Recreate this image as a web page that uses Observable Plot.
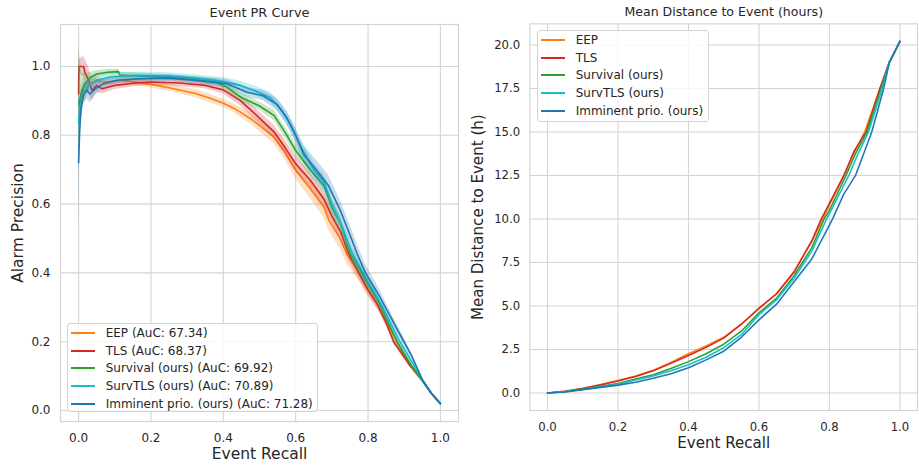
<!DOCTYPE html>
<html><head><meta charset="utf-8">
<script src="https://cdn.jsdelivr.net/npm/d3@7"></script>
<script src="https://cdn.jsdelivr.net/npm/@observablehq/plot@0.6"></script>
<style>
html,body{margin:0;padding:0;background:#fff;overflow:hidden}
#wrap{position:relative;width:919px;height:467px;overflow:hidden;font-family:"DejaVu Sans",sans-serif;color:#262626;background:#fff}
.panel{position:absolute;top:0}
.legend{position:absolute;background:rgba(255,255,255,0.8);border:1px solid #d4d4d4;border-radius:3px;font-size:12px;box-sizing:border-box;padding:0 0 0 3px}
.legend .row{height:17.7px;display:flex;align-items:center;white-space:nowrap}
.legend .sw{width:24px;height:2px;margin-right:10.7px;flex:none}
</style>
</head><body>
<div id="wrap">
  <div id="left" class="panel" style="left:0"></div>
  <div id="right" class="panel" style="left:470px"></div>
  <div id="legL" class="legend" style="left:67px;top:323px;width:251px;height:89px"></div>
  <div id="legR" class="legend" style="left:537px;top:30px;width:172px;height:92px"></div>
</div>
<script>
const methods = ["EEP", "TLS", "Survival (ours)", "SurvTLS (ours)", "Imminent prio. (ours)"];
const aucs = ["67.34", "68.37", "69.92", "70.89", "71.28"];
const colors = ["#ff7f0e", "#d62728", "#2ca02c", "#17becf", "#1f77b4"];
const recallTicks = [0, 0.2, 0.4, 0.6, 0.8, 1.0];
const precisionTicks = [0, 0.2, 0.4, 0.6, 0.8, 1.0];
const distanceTicks = [0, 2.5, 5, 7.5, 10, 12.5, 15, 17.5, 20];

// PR curves: [recall, precision, band half-width]
const prEEP = [[0.002,0.88,0.03],[0.005,0.90,0.04],[0.012,0.935,0.03],[0.018,0.925,0.025],[0.03,0.95,0.015],[0.05,0.96,0.01],[0.07,0.955,0.01],[0.12,0.96,0.01],[0.2,0.948,0.01],[0.25,0.938,0.01],[0.32,0.922,0.012],[0.36,0.909,0.012],[0.4,0.893,0.012],[0.43,0.878,0.012],[0.45,0.865,0.015],[0.48,0.845,0.015],[0.51,0.82,0.018],[0.54,0.795,0.02],[0.57,0.752,0.022],[0.6,0.698,0.025],[0.64,0.645,0.028],[0.678,0.591,0.03],[0.692,0.552,0.03],[0.72,0.505,0.03],[0.742,0.455,0.03],[0.776,0.40,0.025],[0.8,0.352,0.02],[0.828,0.305,0.015],[0.85,0.26,0.012],[0.88,0.20,0.01],[0.9,0.16,0.008],[0.93,0.112,0.006],[0.95,0.087,0.005],[0.975,0.05,0.004],[1.0,0.02,0.003]];
const prTLS = [[0.0,0.92,0.03],[0.001,1.0,0.02],[0.014,1.0,0.03],[0.018,0.98,0.04],[0.028,0.96,0.04],[0.037,0.93,0.03],[0.05,0.945,0.02],[0.065,0.935,0.015],[0.1,0.945,0.012],[0.16,0.952,0.01],[0.2,0.955,0.01],[0.28,0.952,0.01],[0.35,0.945,0.01],[0.4,0.932,0.012],[0.448,0.90,0.015],[0.49,0.86,0.018],[0.54,0.81,0.02],[0.57,0.765,0.022],[0.6,0.717,0.022],[0.64,0.67,0.022],[0.678,0.615,0.022],[0.70,0.565,0.02],[0.724,0.52,0.02],[0.745,0.46,0.02],[0.774,0.40,0.018],[0.8,0.35,0.015],[0.825,0.31,0.012],[0.85,0.255,0.01],[0.871,0.20,0.008],[0.9,0.155,0.007],[0.915,0.132,0.006],[0.93,0.115,0.005],[0.95,0.087,0.005],[0.975,0.05,0.004],[1.0,0.02,0.003]];
const prSurvival = [[0.0,0.89,0.17],[0.009,0.93,0.05],[0.018,0.95,0.03],[0.032,0.968,0.015],[0.05,0.978,0.01],[0.08,0.983,0.008],[0.11,0.985,0.008],[0.115,0.975,0.008],[0.18,0.972,0.008],[0.25,0.968,0.008],[0.32,0.962,0.008],[0.38,0.955,0.01],[0.41,0.94,0.01],[0.448,0.911,0.012],[0.5,0.885,0.012],[0.54,0.858,0.015],[0.57,0.81,0.015],[0.6,0.756,0.018],[0.64,0.70,0.018],[0.678,0.654,0.02],[0.70,0.59,0.02],[0.724,0.543,0.02],[0.752,0.455,0.018],[0.782,0.40,0.016],[0.832,0.31,0.012],[0.88,0.20,0.01],[0.92,0.13,0.007],[0.95,0.087,0.005],[0.975,0.05,0.004],[1.0,0.02,0.003]];
const prSurvTLS = [[0.0,0.834,0.06],[0.004,0.88,0.04],[0.014,0.92,0.03],[0.028,0.945,0.02],[0.05,0.96,0.012],[0.088,0.97,0.01],[0.16,0.974,0.01],[0.25,0.972,0.01],[0.32,0.966,0.01],[0.4,0.956,0.012],[0.448,0.945,0.012],[0.49,0.928,0.014],[0.53,0.91,0.015],[0.558,0.877,0.016],[0.585,0.833,0.018],[0.613,0.77,0.02],[0.65,0.70,0.02],[0.678,0.665,0.02],[0.70,0.60,0.02],[0.724,0.545,0.02],[0.757,0.455,0.018],[0.786,0.40,0.016],[0.838,0.305,0.012],[0.885,0.205,0.01],[0.925,0.135,0.007],[0.95,0.088,0.005],[0.975,0.05,0.004],[1.0,0.02,0.003]];
const prImminent = [[0.0,0.72,0.2],[0.003,0.815,0.08],[0.007,0.88,0.04],[0.014,0.92,0.03],[0.023,0.93,0.025],[0.032,0.92,0.025],[0.046,0.935,0.02],[0.069,0.95,0.012],[0.106,0.96,0.01],[0.16,0.964,0.01],[0.25,0.966,0.01],[0.32,0.96,0.01],[0.41,0.95,0.012],[0.465,0.925,0.014],[0.51,0.915,0.015],[0.548,0.89,0.018],[0.576,0.85,0.02],[0.6,0.80,0.022],[0.622,0.745,0.025],[0.659,0.697,0.028],[0.69,0.655,0.03],[0.724,0.58,0.03],[0.756,0.494,0.03],[0.77,0.455,0.028],[0.793,0.40,0.025],[0.83,0.335,0.02],[0.853,0.29,0.016],[0.894,0.21,0.012],[0.92,0.16,0.008],[0.95,0.09,0.006],[0.975,0.05,0.004],[1.0,0.02,0.003]];

// Mean distance to event: [recall, hours]
const mdEEP = [[0,0],[0.05,0.1],[0.1,0.27],[0.15,0.48],[0.2,0.72],[0.25,0.97],[0.3,1.3],[0.35,1.75],[0.4,2.25],[0.45,2.7],[0.5,3.2],[0.55,3.95],[0.6,4.85],[0.65,5.7],[0.7,7.0],[0.75,8.7],[0.78,9.95],[0.8,10.8],[0.84,12.45],[0.87,13.8],[0.9,15.0],[0.94,17.3],[0.97,19.0],[1.0,20.2]];
const mdTLS = [[0,0],[0.05,0.1],[0.1,0.26],[0.15,0.46],[0.2,0.69],[0.25,0.95],[0.3,1.27],[0.35,1.7],[0.4,2.15],[0.45,2.62],[0.5,3.15],[0.55,3.95],[0.6,4.87],[0.65,5.7],[0.7,6.95],[0.75,8.75],[0.777,10.0],[0.8,10.9],[0.841,12.5],[0.87,13.9],[0.904,15.0],[0.943,17.5],[0.97,19.0],[1.0,20.2]];
const mdSurvival = [[0,0],[0.05,0.08],[0.1,0.22],[0.15,0.38],[0.2,0.54],[0.25,0.8],[0.3,1.05],[0.35,1.4],[0.4,1.8],[0.45,2.25],[0.5,2.8],[0.55,3.55],[0.6,4.6],[0.65,5.45],[0.7,6.75],[0.75,8.35],[0.785,10.0],[0.8,10.5],[0.847,12.5],[0.875,13.8],[0.907,15.0],[0.946,17.5],[0.97,19.0],[1.0,20.2]];
const mdSurvTLS = [[0,0],[0.05,0.07],[0.1,0.2],[0.15,0.35],[0.2,0.5],[0.25,0.74],[0.3,0.97],[0.35,1.28],[0.4,1.62],[0.45,2.05],[0.5,2.6],[0.55,3.35],[0.6,4.5],[0.65,5.35],[0.7,6.6],[0.75,8.15],[0.792,10.0],[0.8,10.3],[0.855,12.5],[0.88,13.7],[0.911,15.0],[0.95,17.5],[0.97,19.0],[1.0,20.2]];
const mdImminent = [[0,0],[0.05,0.06],[0.1,0.19],[0.15,0.32],[0.2,0.45],[0.25,0.62],[0.3,0.84],[0.35,1.1],[0.4,1.45],[0.45,1.9],[0.5,2.4],[0.55,3.2],[0.6,4.2],[0.65,5.1],[0.7,6.4],[0.75,7.7],[0.809,10.0],[0.84,11.4],[0.874,12.5],[0.9,13.9],[0.92,15.0],[0.954,17.5],[0.97,19.0],[1.0,20.2]];

const prSeries = [prEEP, prTLS, prSurvival, prSurvTLS, prImminent];
const mdSeries = [mdEEP, mdTLS, mdSurvival, mdSurvTLS, mdImminent];

const GRID = "#d4d4d4";
const TXT = "#262626";
const fmt = d3.format(".1f");

function basic(xTicks, yTicks, title, ylabel, ylabelDx) {
  return {
    pre: [
      Plot.gridX(xTicks, {stroke: GRID, strokeOpacity: 1, strokeWidth: 1.1}),
      Plot.gridY(yTicks, {stroke: GRID, strokeOpacity: 1, strokeWidth: 1.1}),
    ],
    post: [
      Plot.frame({stroke: GRID, strokeWidth: 1.2}),
      Plot.axisX(xTicks, {tickSize: 0, tickPadding: 12, tickFormat: fmt, fontSize: 12, label: null, fill: TXT}),
      Plot.axisY(yTicks, {tickSize: 0, tickPadding: 10, tickFormat: fmt, fontSize: 12, label: null, fill: TXT}),
      Plot.text([title], {frameAnchor: "top", lineAnchor: "middle", textAnchor: "middle", dy: -12, fontSize: 12.9, fill: TXT}),
      Plot.text(["Event Recall"], {frameAnchor: "bottom", lineAnchor: "middle", textAnchor: "middle", dy: 33, fontSize: 15.5, fill: TXT}),
      Plot.text([ylabel], {frameAnchor: "left", lineAnchor: "middle", textAnchor: "middle", dx: ylabelDx, rotate: -90, fontSize: 15.5, fill: TXT}),
    ]
  };
}

// Left panel
{
  const b = basic(recallTicks, precisionTicks, "Event PR Curve", "Alarm Precision", -42.5);
  const marks = [...b.pre];
  prSeries.forEach((s, i) => {
    marks.push(Plot.line(s, {x: d => d[0], y: d => d[1], stroke: colors[i], strokeWidth: 1.6}));
    marks.push(Plot.areaY(s, {x: d => d[0], y1: d => d[1] - d[2], y2: d => d[1] + d[2], fill: colors[i], fillOpacity: 0.25}));
  });
  marks.push(...b.post);
  const p = Plot.plot({
    width: 460, height: 467,
    marginLeft: 60, marginRight: 2, marginTop: 24, marginBottom: 46,
    x: {domain: [-0.05, 1.05]},
    y: {domain: [-0.032, 1.122]},
    style: {fontFamily: "DejaVu Sans", fontSize: "12px", background: "transparent", color: TXT},
    marks
  });
  document.getElementById("left").appendChild(p);
}

// Right panel
{
  const b = basic(recallTicks, distanceTicks, "Mean Distance to Event (hours)", "Mean Distance to Event (h)", -53);
  const marks = [...b.pre];
  mdSeries.forEach((s, i) => {
    marks.push(Plot.line(s, {x: d => d[0], y: d => d[1], stroke: colors[i], strokeWidth: 1.6}));
  });
  marks.push(...b.post);
  const p = Plot.plot({
    width: 461, height: 467,
    marginLeft: 61, marginRight: 2, marginTop: 24, marginBottom: 46,
    x: {domain: [-0.05, 1.05]},
    y: {domain: [-1.01, 21.21]},
    style: {fontFamily: "DejaVu Sans", fontSize: "12px", background: "transparent", color: TXT},
    marks
  });
  document.getElementById("right").appendChild(p);
}

// Legends
function legend(el, labels) {
  labels.forEach((t, i) => {
    const row = document.createElement("div");
    row.className = "row";
    const sw = document.createElement("span");
    sw.className = "sw";
    sw.style.background = colors[i];
    const tx = document.createElement("span");
    tx.textContent = t;
    row.appendChild(sw); row.appendChild(tx);
    el.appendChild(row);
  });
}
legend(document.getElementById("legL"), methods.map((m, i) => `${m} (AuC: ${aucs[i]})`));
legend(document.getElementById("legR"), methods);
</script>
</body></html>
